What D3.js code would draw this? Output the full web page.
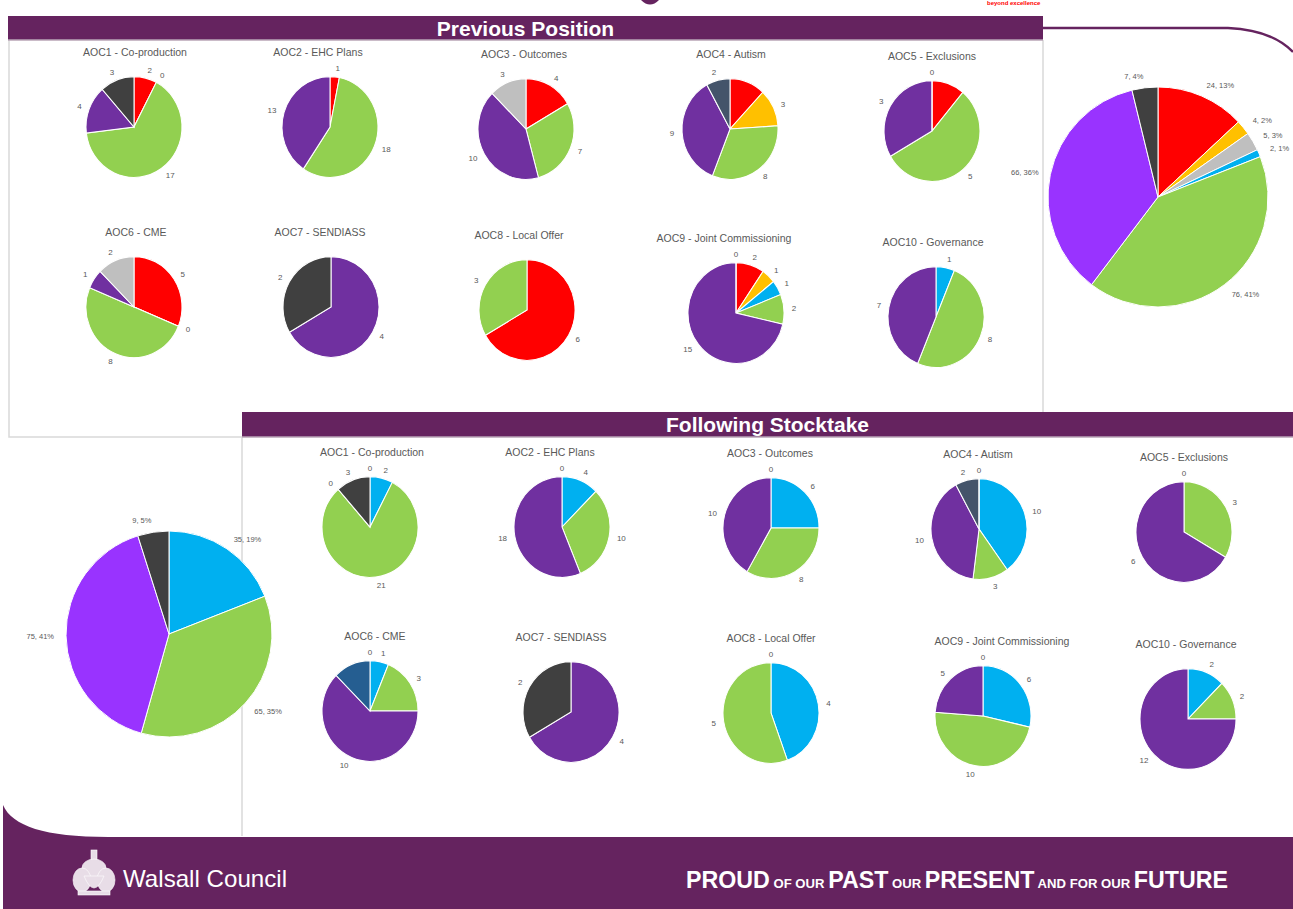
<!DOCTYPE html>
<html>
<head>
<meta charset="utf-8">
<script src="https://cdn.jsdelivr.net/npm/d3@7"></script>
<style>
  body { margin: 0; background: #fff; }
  svg { display: block; font-family: "Liberation Sans", Arial, sans-serif; }
  .ttl { font-size: 10.5px; fill: #595959; text-anchor: middle; }
  .lbl { fill: #595959; }
</style>
</head>
<body>
<div id="chart"></div>
<script>
var svgWidth = 1293;
var svgHeight = 909;
var purple = "#65235F";

// slice colours by RAG category
var sliceColors = {
  Red: "#FF0000",
  Amber: "#FFC000",
  Grey: "#BFBFBF",
  Blue: "#00B0F0",
  Green: "#92D050",
  Purple: "#7030A0",
  Black: "#404040",
  Slate: "#44546A",
  Navy: "#255E91"
};
var bigPurple = "#9933FF";

var aocTitles = ["AOC1 - Co-production", "AOC2 - EHC Plans", "AOC3 - Outcomes", "AOC4 - Autism",
  "AOC5 - Exclusions", "AOC6 - CME", "AOC7 - SENDIASS", "AOC8 - Local Offer",
  "AOC9 - Joint Commissioning", "AOC10 - Governance"];

// [category, count] in pie order (clockwise from 12 o'clock)
var prevSlices = [
  [["Red", 2], ["Amber", 0], ["Green", 17], ["Purple", 4], ["Black", 3]],
  [["Red", 1], ["Green", 18], ["Purple", 13]],
  [["Red", 4], ["Green", 7], ["Purple", 10], ["Grey", 3]],
  [["Red", 3], ["Amber", 3], ["Green", 8], ["Purple", 9], ["Slate", 2]],
  [["Red", 1], ["Green", 5], ["Purple", 3], ["Black", 0]],
  [["Red", 5], ["Amber", 0], ["Green", 8], ["Purple", 1], ["Grey", 2]],
  [["Purple", 4], ["Black", 2]],
  [["Red", 6], ["Green", 3]],
  [["Red", 2], ["Amber", 1], ["Blue", 1], ["Green", 2], ["Purple", 15], ["Black", 0]],
  [["Blue", 1], ["Green", 8], ["Purple", 7]]
];

var followSlices = [
  [["Red", 0], ["Blue", 2], ["Green", 21], ["Purple", 0], ["Black", 3]],
  [["Red", 0], ["Blue", 4], ["Green", 10], ["Purple", 18]],
  [["Red", 0], ["Blue", 6], ["Green", 8], ["Purple", 10]],
  [["Blue", 10], ["Green", 3], ["Purple", 10], ["Slate", 2], ["Red", 0]],
  [["Red", 0], ["Green", 3], ["Purple", 6]],
  [["Red", 0], ["Blue", 1], ["Green", 3], ["Purple", 10], ["Navy", 2]],
  [["Purple", 4], ["Black", 2]],
  [["Red", 0], ["Blue", 4], ["Green", 5]],
  [["Red", 0], ["Blue", 6], ["Green", 10], ["Purple", 5]],
  [["Blue", 2], ["Green", 2], ["Purple", 12]]
];

var prevTotals = [["Red", 24], ["Amber", 4], ["Grey", 5], ["Blue", 2], ["Green", 76], ["Purple", 66], ["Black", 7]];
var followTotals = [["Blue", 35], ["Green", 65], ["Purple", 75], ["Black", 9]];

// data labels that the slide does not show: [aoc index, category]
var prevNoLabel = [[3, "Red"], [4, "Red"]];
var followNoLabel = [[5, "Navy"]];

// layout of the small pies
var prevCenters = [[134, 127], [330, 127], [526, 129], [730, 129], [932, 131],
  [134, 307], [331, 307], [527, 310], [736, 313], [936, 317]];
var prevTitleX = [135, 318, 524, 731, 932, 136, 320, 519, 724, 933];
var followCenters = [[370, 527], [562, 527], [771, 528], [979, 529], [1184, 532],
  [370, 711], [571, 712], [771, 713], [983, 716], [1188, 719]];
var followTitleX = [372, 550, 770, 978, 1184, 375, 561, 771, 1002, 1186];

var svg = d3.select("#chart")
  .append("svg")
  .attr("width", svgWidth)
  .attr("height", svgHeight);

// ---- slide furniture ----
// bits of the logo at the very top
svg.append("path")
  .attr("d", "M641,0 Q650,9 659,0 Z")
  .attr("fill", purple);
svg.append("text")
  .attr("x", 987).attr("y", 5)
  .attr("fill", "#FF0000")
  .style("font-size", "6px")
  .style("font-weight", "bold")
  .text("beyond excellence");

// purple rule that curves down at the top right
svg.append("path")
  .attr("d", "M1040,28 L1228,28 Q1272,30 1293,52")
  .attr("fill", "none")
  .attr("stroke", purple)
  .attr("stroke-width", 2.5);

// panel borders
var border = svg.append("g").attr("stroke", "#D9D9D9").attr("stroke-width", 1.5).attr("fill", "none");
border.append("path").attr("d", "M9,40 V437 H242");
border.append("path").attr("d", "M1043,40 V412");
border.append("path").attr("d", "M242,437 V836");

function headerBar(x, y, w, h, label) {
  svg.append("rect")
    .attr("x", x).attr("y", y)
    .attr("width", w).attr("height", h)
    .attr("fill", purple);
  svg.append("line")
    .attr("x1", x).attr("x2", x + w)
    .attr("y1", y + h).attr("y2", y + h)
    .attr("stroke", "#B8A4B6").attr("stroke-width", 1.5);
  svg.append("text")
    .attr("x", x + w / 2).attr("y", y + h / 2)
    .attr("dy", "0.36em")
    .attr("text-anchor", "middle")
    .attr("fill", "#fff")
    .style("font-size", "21px")
    .style("font-weight", "bold")
    .text(label);
}
headerBar(8, 16, 1035, 24, "Previous Position");
headerBar(242, 412, 1051, 25, "Following Stocktake");

// ---- pies ----
function drawPie(cx, cy, r, slices, opts) {
  var g = svg.append("g").attr("transform", `translate(${cx}, ${cy})`);
  var sy = opts.sy || 1;
  var pie = d3.pie().sort(null).value(d => d[1]);
  var arcs = pie(slices);
  var arc = d3.arc().innerRadius(0).outerRadius(r);
  var labelArc = d3.arc().innerRadius(r + opts.off).outerRadius(r + opts.off);
  var hidden = opts.hidden || [];

  g.append("g")
    .attr("transform", `scale(1, ${sy})`)
    .selectAll("path")
    .data(arcs).enter()
    .append("path")
    .attr("d", arc)
    .attr("fill", d => opts.color(d.data[0]))
    .attr("stroke", "#fff")
    .attr("stroke-width", 1);

  g.selectAll("text")
    .data(arcs.filter(d => hidden.indexOf(d.data[0]) < 0)).enter()
    .append("text")
    .attr("class", "lbl")
    .attr("x", d => labelArc.centroid(d)[0])
    .attr("y", d => labelArc.centroid(d)[1] * sy)
    .attr("dy", "0.35em")
    .attr("text-anchor", function(d) {
      var x = labelArc.centroid(d)[0];
      return x > 4 ? "start" : (x < -4 ? "end" : "middle");
    })
    .style("font-size", opts.fs)
    .text(d => opts.text(d));
}

function drawSmallSet(slicesList, centers, titleX, noLabel) {
  slicesList.forEach(function(slices, i) {
    var c = centers[i];
    svg.append("text")
      .attr("class", "ttl")
      .attr("x", titleX[i])
      .attr("y", c[1] - 71)
      .text(aocTitles[i]);
    drawPie(c[0], c[1], 48, slices, {
      sy: 1.05,
      off: 8,
      fs: "8px",
      hidden: noLabel.filter(n => n[0] === i).map(n => n[1]),
      color: k => sliceColors[k],
      text: d => d.data[1]
    });
  });
}
drawSmallSet(prevSlices, prevCenters, prevTitleX, prevNoLabel);
drawSmallSet(followSlices, followCenters, followTitleX, followNoLabel);

function bigOpts(total) {
  return {
    sy: 1,
    off: 12,
    fs: "7.5px",
    color: k => k === "Purple" ? bigPurple : sliceColors[k],
    text: d => d.data[1] + ", " + Math.round(d.data[1] / total * 100) + "%"
  };
}
drawPie(1158, 197, 110, prevTotals, bigOpts(d3.sum(prevTotals, d => d[1])));
drawPie(169, 634, 103, followTotals, bigOpts(d3.sum(followTotals, d => d[1])));

// ---- footer ----
svg.append("path")
  .attr("d", "M3,805 C12,826 45,837 108,837 L1293,837 L1293,909 L3,909 Z")
  .attr("fill", purple);

// crest
var crest = svg.append("g").attr("transform", "translate(94, 874)").attr("fill", "#E8DDE7").attr("stroke", "#fff").attr("stroke-width", 0.6);
crest.append("rect").attr("x", -3).attr("y", -24).attr("width", 6).attr("height", 10);
crest.append("ellipse").attr("cx", 0).attr("cy", -6).attr("rx", 12).attr("ry", 9);
crest.append("ellipse").attr("cx", -12).attr("cy", 6).attr("rx", 9).attr("ry", 12);
crest.append("ellipse").attr("cx", 12).attr("cy", 6).attr("rx", 9).attr("ry", 12);
crest.append("path").attr("d", "M-10,2 Q0,26 10,2 Z");
crest.append("rect").attr("x", -16).attr("y", 17).attr("width", 32).attr("height", 4);

svg.append("text")
  .attr("x", 123).attr("y", 887)
  .attr("fill", "#fff")
  .attr("textLength", 164)
  .attr("lengthAdjust", "spacingAndGlyphs")
  .style("font-size", "24px")
  .text("Walsall Council");

var motto = svg.append("text")
  .attr("x", 686).attr("y", 888)
  .attr("fill", "#fff")
  .attr("textLength", 542)
  .attr("lengthAdjust", "spacingAndGlyphs")
  .style("font-weight", "bold");
[["PROUD", 23], [" OF OUR ", 13], ["PAST", 23], [" OUR ", 13], ["PRESENT", 23], [" AND FOR OUR ", 13], ["FUTURE", 23]]
  .forEach(function(p) {
    motto.append("tspan").style("font-size", p[1] + "px").text(p[0]);
  });
</script>
</body>
</html>
